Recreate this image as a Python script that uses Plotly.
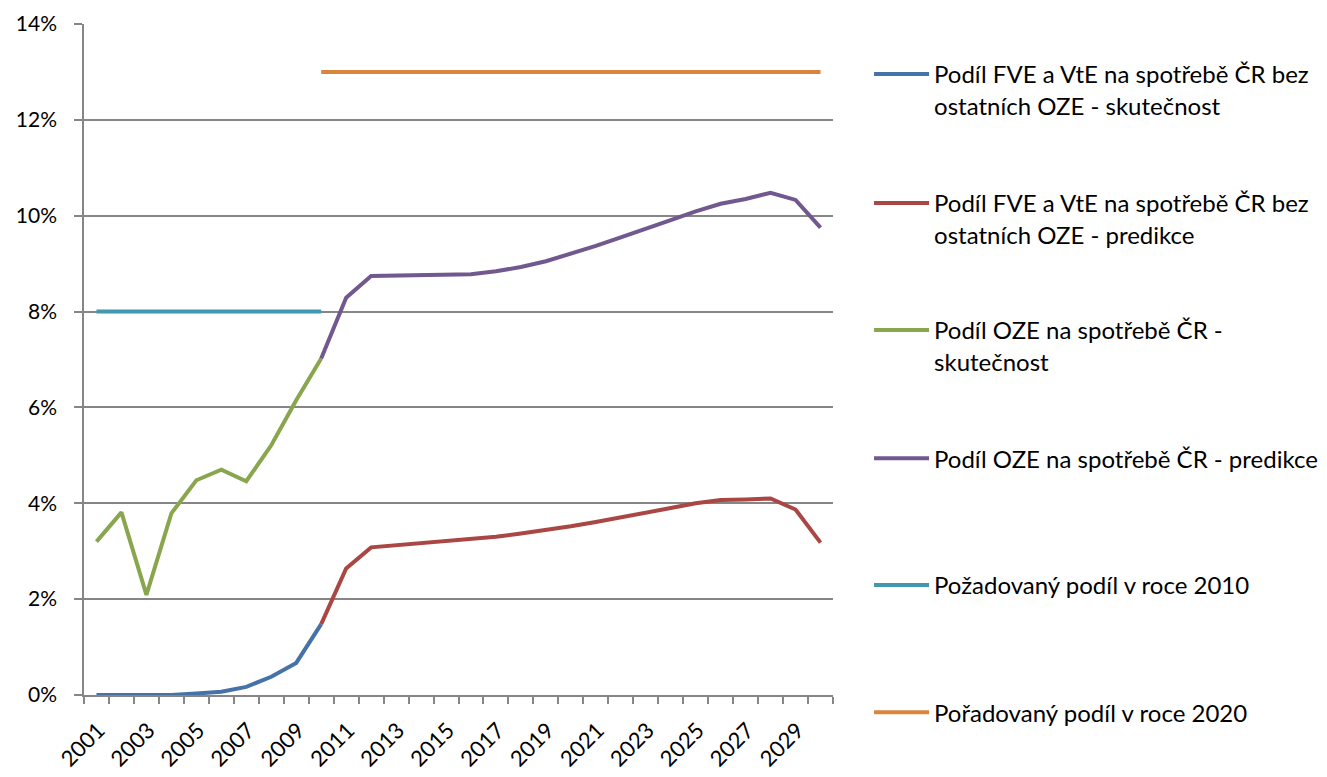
import plotly.graph_objects as go

years = list(range(2001, 2031))
years_real = list(range(2001, 2011))
years_pred = list(range(2010, 2031))

fve_real = [0.00, 0.00, 0.01, 0.00, 0.03, 0.07, 0.17, 0.38, 0.67, 1.48]
fve_pred = [1.48, 2.64, 3.08, 3.12, 3.16, 3.20, 3.25, 3.30, 3.37, 3.44, 3.52,
            3.61, 3.70, 3.80, 3.90, 4.00, 4.07, 4.08, 4.10, 3.87, 3.18]
oze_real = [3.20, 3.81, 2.09, 3.79, 4.48, 4.70, 4.46, 5.21, 6.15, 7.02]
oze_pred = [7.02, 8.29, 8.74, 8.75, 8.75, 8.76, 8.78, 8.84, 8.93, 9.05, 9.20,
            9.37, 9.55, 9.72, 9.91, 10.09, 10.25, 10.35, 10.48, 10.33, 9.75]
target_2010 = [8.0] * len(years_real)
target_2020 = [13.0] * len(years_pred)

y_ticks = list(range(0, 15, 2))
y_ticktext = [f"{v}%" for v in y_ticks]
x_ticks = years[::2]
x_ticktext = [str(y) for y in x_ticks]

names = [
    "Podíl FVE a VtE na spotřebě ČR bez<br>ostatních OZE - skutečnost",
    "Podíl FVE a VtE na spotřebě ČR bez<br>ostatních OZE - predikce",
    "Podíl OZE na spotřebě ČR -<br>skutečnost",
    "Podíl OZE na spotřebě ČR - predikce",
    "Požadovaný podíl v roce 2010",
    "Pořadovaný podíl v roce 2020",
]
colors = ["#4572A7", "#AA4643", "#89A54E", "#71588F", "#4198AF", "#DB843D"]

series = [
    (years_real, fve_real),
    (years_pred, fve_pred),
    (years_real, oze_real),
    (years_pred, oze_pred),
    (years_real, target_2010),
    (years_pred, target_2020),
]
draw_order = [5, 4, 2, 3, 0, 1]

FONT = "Lato"
fig = go.Figure()
for i in draw_order:
    xs, ys = series[i]
    fig.add_trace(go.Scatter(
        x=xs, y=ys, mode="lines", name=names[i],
        line=dict(color=colors[i], width=4),
        legend="legend" if i == 0 else f"legend{i+1}",
    ))

# legends placed in container coordinates so they do not push the plot margins
legend_tops = [0.9428, 0.7750, 0.6099, 0.4434, 0.2783, 0.1131]
leg = {}
for i, yt in enumerate(legend_tops):
    key = "legend" if i == 0 else f"legend{i+1}"
    leg[key] = dict(x=0.6528, xref="container", xanchor="left",
                    y=yt, yref="container", yanchor="top", valign="top",
                    font=dict(family=FONT, size=24, color="#000000"),
                    bgcolor="rgba(0,0,0,0)", itemwidth=55, tracegroupgap=0)

minor_vals = [y - 0.5 for y in years] + [years[-1] + 0.5]

# the page body has an 8px margin, so the figure is sized to fit inside the window
fig.update_layout(
    width=1319, height=769,
    margin=dict(l=76, r=494, t=16, b=82),
    paper_bgcolor="white", plot_bgcolor="white",
    font=dict(family=FONT, size=21, color="#000000"),
    showlegend=True,
    **leg,
    xaxis=dict(
        range=[2000.5, 2030.5], tickmode="array",
        tickvals=x_ticks, ticktext=x_ticktext, automargin=False,
        tickangle=-45, ticks="outside", ticklen=7, tickcolor="rgba(0,0,0,0)",
        ticklabelstandoff=5, ticklabelshift=2,
        showline=True, linecolor="#868686", linewidth=1.5, showgrid=False,
        zeroline=False, tickfont=dict(family=FONT, size=22),
        minor=dict(ticks="outside", ticklen=7, tickwidth=1.5, tickcolor="#868686",
                   tickmode="array", tickvals=minor_vals, showgrid=False),
    ),
    yaxis=dict(
        range=[0, 14], tickmode="array", tickvals=y_ticks, ticktext=y_ticktext,
        automargin=False,
        ticks="outside", ticklen=8, tickwidth=1.5, tickcolor="#868686",
        showline=True, linecolor="#868686", linewidth=1.5,
        showgrid=True, gridcolor="#868686", gridwidth=1.5, zeroline=False,
        tickfont=dict(family=FONT, size=21), ticklabelstandoff=13,
    ),
)

fig.write_html("out.html")
